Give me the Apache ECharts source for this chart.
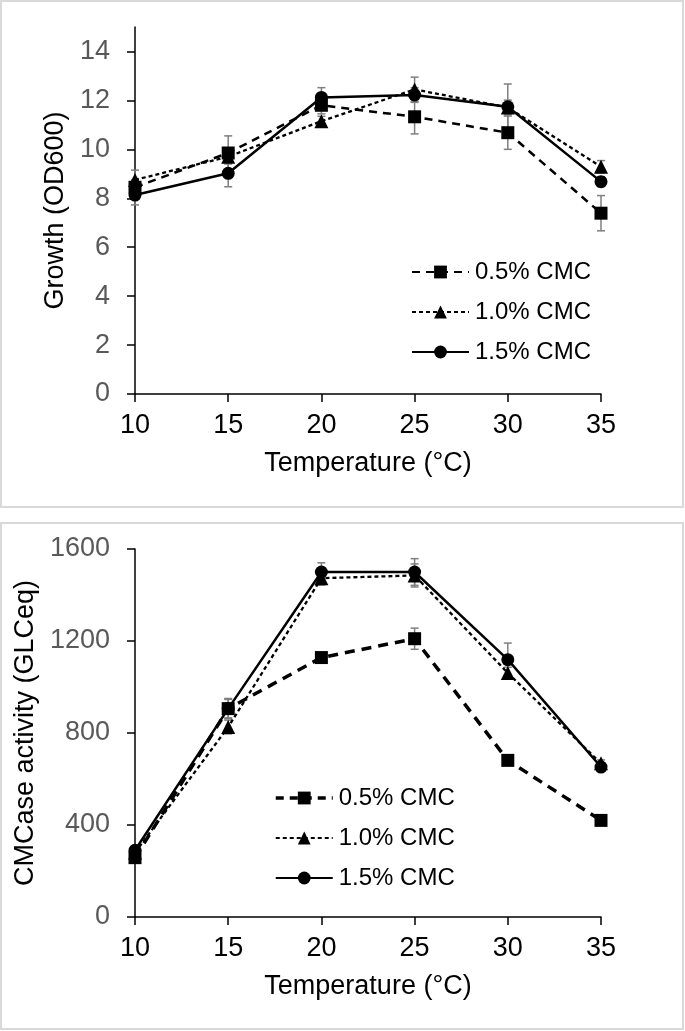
<!DOCTYPE html>
<html>
<head>
<meta charset="utf-8">
<script src="https://cdn.jsdelivr.net/npm/echarts@6/dist/echarts.min.js"></script>
<style>
  html, body { margin: 0; padding: 0; background: #fff; }
  #chart { width: 685px; height: 1031px; }
</style>
</head>
<body>
<div id="chart"></div>
<script>
// temperatures (°C)
var temps = [10, 15, 20, 25, 30, 35];
var seriesNames = ['0.5% CMC', '1.0% CMC', '1.5% CMC'];

// growth (OD600)
var growth05 = [8.45, 9.85, 11.8, 11.33, 10.68, 7.39];
var growth10 = [8.75, 9.7, 11.15, 12.45, 11.71, 9.29];
var growth15 = [8.13, 9.02, 12.12, 12.22, 11.74, 8.68];
var growthErr05 = [0.3, 0.7, 0.35, 0.7, 0.68, 0.72];
var growthErr10 = [0.4, 0.3, 0.2, 0.5, 0.3, 0.25];
var growthErr15 = [0.4, 0.55, 0.4, 0.3, 0.93, 0.2];
var growthTicks = [0, 2, 4, 6, 8, 10, 12, 14];

// CMCase activity (GLCeq)
var cmc05 = [258, 906, 1128, 1210, 681, 420];
var cmc10 = [280, 826, 1473, 1485, 1061, 668];
var cmc15 = [290, 906, 1500, 1500, 1119, 652];
var cmcErr05 = [20, 40, 20, 46, 15, 15];
var cmcErr10 = [20, 30, 30, 50, 25, 15];
var cmcErr15 = [20, 44, 40, 58, 72, 15];
var cmcTicks = [0, 400, 800, 1200, 1600];

var font = '"Liberation Sans", Arial, sans-serif';

function pairs(vals) {
  var out = [];
  for (var i = 0; i < temps.length; i++) {
    out.push([temps[i], vals[i]]);
  }
  return out;
}

function errData(vals, errs) {
  var out = [];
  for (var i = 0; i < temps.length; i++) {
    out.push([temps[i], vals[i] - errs[i], vals[i] + errs[i]]);
  }
  return out;
}

// error bar with caps
function renderError(params, api) {
  var x = api.value(0);
  var top = api.coord([x, api.value(2)]);
  var bot = api.coord([x, api.value(1)]);
  var w = 4;
  var style = { stroke: '#7f7f7f', lineWidth: 1.5 };
  return {
    type: 'group',
    children: [
      { type: 'line', shape: { x1: top[0], y1: top[1], x2: bot[0], y2: bot[1] }, style: style },
      { type: 'line', shape: { x1: top[0] - w, y1: top[1], x2: top[0] + w, y2: top[1] }, style: style },
      { type: 'line', shape: { x1: bot[0] - w, y1: bot[1], x2: bot[0] + w, y2: bot[1] }, style: style }
    ]
  };
}

function errSeries(vals, errs, idx) {
  return {
    type: 'custom',
    xAxisIndex: idx,
    yAxisIndex: idx,
    renderItem: renderError,
    encode: { x: 0, y: [1, 2] },
    data: errData(vals, errs),
    z: 1,
    silent: true
  };
}

function lineSeries(name, vals, idx, symbol, dash, width) {
  return {
    name: name,
    type: 'line',
    xAxisIndex: idx,
    yAxisIndex: idx,
    data: pairs(vals),
    symbol: symbol,
    symbolSize: symbol === 'triangle' ? 14 : 13,
    showAllSymbol: true,
    itemStyle: { color: '#000' },
    lineStyle: { color: '#000', width: width, type: dash },
    z: 3,
    animation: false
  };
}

function xAxisCfg(idx) {
  return {
    type: 'value',
    gridIndex: idx,
    min: 10,
    max: 35,
    interval: 5,
    name: 'Temperature (°C)',
    nameLocation: 'middle',
    nameGap: 56,
    nameTextStyle: { color: '#000', fontSize: 27, fontFamily: font },
    axisLine: { show: true, lineStyle: { color: '#000', width: 1.5 } },
    axisTick: { show: true, length: 8, lineStyle: { color: '#000', width: 1.5 } },
    axisLabel: { color: '#000', fontSize: 27, fontFamily: font, margin: 18 },
    splitLine: { show: false }
  };
}

function yAxisCfg(idx, name, max, interval, ticks, gap) {
  return {
    type: 'value',
    gridIndex: idx,
    min: 0,
    max: max,
    interval: interval,
    name: name,
    nameLocation: 'middle',
    nameGap: gap,
    nameTextStyle: { color: '#000', fontSize: 27, fontFamily: font },
    axisLine: { show: true, lineStyle: { color: '#000', width: 1.5 } },
    axisTick: { show: true, length: 8, customValues: ticks, lineStyle: { color: '#000', width: 1.5 } },
    axisLabel: {
      color: '#595959', fontSize: 27, fontFamily: font, margin: 25, customValues: ticks,
      formatter: function (v) { return String(v); }
    },
    splitLine: { show: false }
  };
}

function legendCfg(left, top, dataItems) {
  return {
    orient: 'vertical',
    left: left,
    top: top,
    itemWidth: 57,
    itemHeight: 16,
    itemGap: 14,
    textStyle: { color: '#000', fontSize: 24, fontFamily: font, lineHeight: 26, padding: [0, 0, 0, 1] },
    data: dataItems
  };
}

var option = {
  animation: false,
  backgroundColor: '#fff',
  graphic: [
    { type: 'rect', shape: { x: 1, y: 1, width: 682, height: 506 }, style: { fill: 'none', stroke: '#d9d9d9', lineWidth: 2 }, silent: true },
    { type: 'rect', shape: { x: 1, y: 523, width: 682, height: 506 }, style: { fill: 'none', stroke: '#d9d9d9', lineWidth: 2 }, silent: true }
  ],
  grid: [
    { left: 135, width: 466, top: 27, height: 367 },
    { left: 135, width: 466, top: 549, height: 368 }
  ],
  xAxis: [xAxisCfg(0), xAxisCfg(1)],
  yAxis: [
    yAxisCfg(0, 'Growth (OD600)', 15, 2, growthTicks, 62),
    yAxisCfg(1, 'CMCase activity (GLCeq)', 1600, 400, cmcTicks, 90)
  ],
  legend: [
    legendCfg(406, 254, seriesNames),
    legendCfg(269, 780, [
      { name: seriesNames[0], lineStyle: { width: 3.5 } },
      seriesNames[1],
      seriesNames[2]
    ])
  ],
  series: [
    errSeries(growth05, growthErr05, 0),
    errSeries(growth10, growthErr10, 0),
    errSeries(growth15, growthErr15, 0),
    lineSeries(seriesNames[0], growth05, 0, 'rect', [8, 6], 2.5),
    lineSeries(seriesNames[1], growth10, 0, 'triangle', [4, 3], 2.3),
    lineSeries(seriesNames[2], growth15, 0, 'circle', 'solid', 2.5),
    errSeries(cmc05, cmcErr05, 1),
    errSeries(cmc10, cmcErr10, 1),
    errSeries(cmc15, cmcErr15, 1),
    lineSeries(seriesNames[0], cmc05, 1, 'rect', [10, 7], 3.5),
    lineSeries(seriesNames[1], cmc10, 1, 'triangle', [4, 3], 2.3),
    lineSeries(seriesNames[2], cmc15, 1, 'circle', 'solid', 2.5)
  ]
};

var chart = echarts.init(document.getElementById('chart'), null, { renderer: 'canvas' });
chart.setOption(option);
</script>
</body>
</html>
